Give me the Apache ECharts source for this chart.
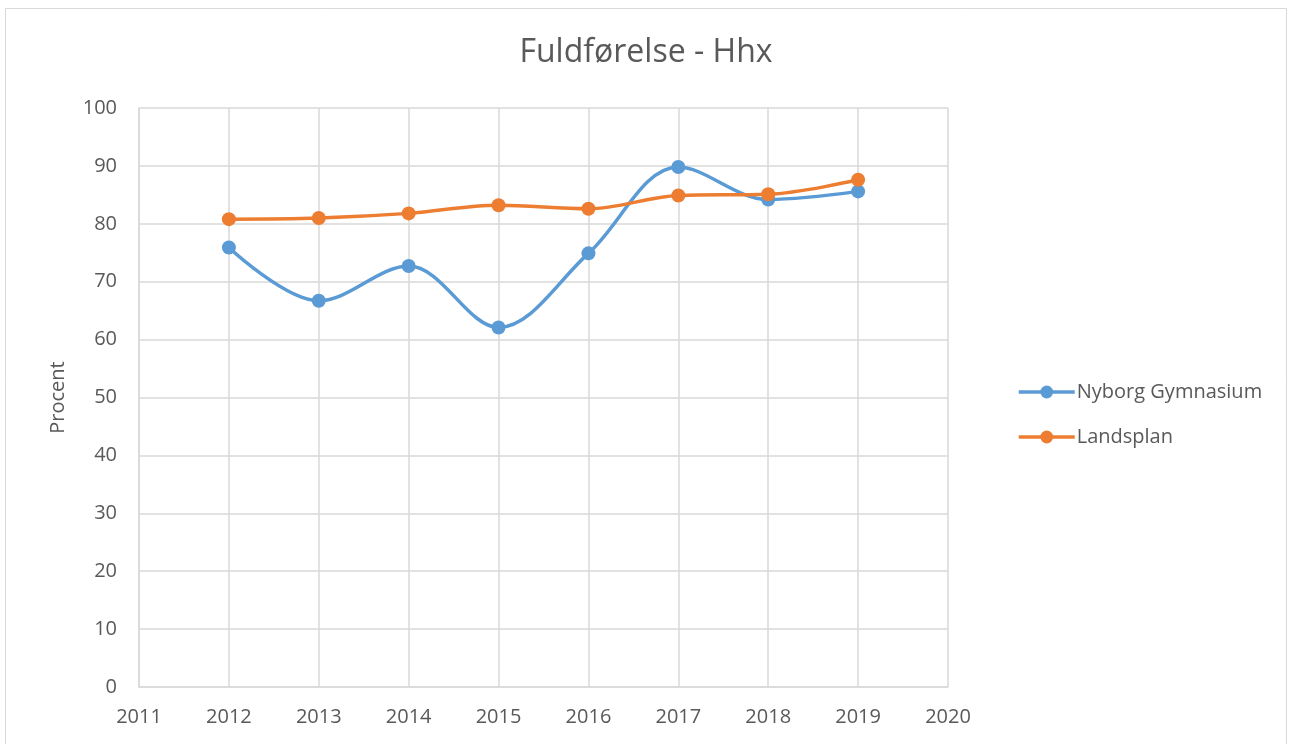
<!DOCTYPE html>
<html>
<head>
<meta charset="utf-8">
<script src="https://cdn.jsdelivr.net/npm/echarts@6/dist/echarts.min.js"></script>
<style>
html,body{margin:0;padding:0;background:#fff;}
#c{width:1292px;height:744px;}
</style>
</head>
<body>
<div id="c"></div>
<script>
const years = [2012, 2013, 2014, 2015, 2016, 2017, 2018, 2019];
const nyborg = [75.9, 66.7, 72.7, 62.1, 74.9, 89.8, 84.2, 85.6];
const landsplan = [80.8, 81.0, 81.8, 83.2, 82.6, 84.9, 85.1, 87.6];
const seriesNames = ['Nyborg Gymnasium', 'Landsplan'];
const titleText = 'Fuldførelse - Hhx';
const yAxisName = 'Procent';

const pair = (xs, ys) => xs.map((x, i) => [x, ys[i]]);
const textColor = '#595959';
const gridColor = '#d9d9d9';
const fontFamily = '"Open Sans", "Noto Sans", sans-serif';

const chart = echarts.init(document.getElementById('c'), null, {renderer: 'canvas'});
chart.setOption({
  backgroundColor: '#fff',
  animation: false,
  graphic: [{
    type: 'rect',
    shape: {x: 5.5, y: 8.5, width: 1281, height: 750},
    style: {fill: 'none', stroke: gridColor, lineWidth: 1},
    silent: true
  }],
  title: {
    text: titleText,
    left: 'center',
    top: 32,
    textStyle: {color: textColor, fontFamily: fontFamily, fontSize: 32, fontWeight: 'normal'}
  },
  legend: {
    orient: 'vertical',
    left: 1012,
    top: 377,
    itemWidth: 56,
    itemHeight: 16,
    itemGap: 25,
    data: seriesNames.map(n => ({name: n, lineStyle: {width: 3.5}})),
    textStyle: {color: textColor, fontFamily: fontFamily, fontSize: 20, padding: [0, 0, 0, -3]}
  },
  grid: {left: 139, right: 344, top: 108, bottom: 57, containLabel: false},
  xAxis: {
    type: 'value',
    min: 2011,
    max: 2020,
    interval: 1,
    axisLine: {show: true, lineStyle: {color: gridColor, width: 1.5}},
    axisTick: {show: false},
    splitLine: {show: true, lineStyle: {color: gridColor, width: 1.5}},
    axisLabel: {color: textColor, fontFamily: fontFamily, fontSize: 20, margin: 20, formatter: v => String(v)}
  },
  yAxis: {
    type: 'value',
    min: 0,
    max: 100,
    interval: 10,
    name: yAxisName,
    nameLocation: 'middle',
    nameGap: 71,
    nameRotate: 90,
    nameTextStyle: {color: textColor, fontFamily: fontFamily, fontSize: 20},
    axisLine: {show: true, lineStyle: {color: gridColor, width: 1.5}},
    axisTick: {show: false},
    splitLine: {show: true, lineStyle: {color: gridColor, width: 1.5}},
    axisLabel: {color: textColor, fontFamily: fontFamily, fontSize: 20, margin: 22}
  },
  series: [
    {
      name: seriesNames[0],
      type: 'line',
      data: pair(years, nyborg),
      smooth: 0.35,
      symbol: 'circle',
      symbolSize: 14,
      lineStyle: {color: '#5B9BD5', width: 3.5},
      itemStyle: {color: '#5B9BD5'}
    },
    {
      name: seriesNames[1],
      type: 'line',
      data: pair(years, landsplan),
      smooth: 0.35,
      symbol: 'circle',
      symbolSize: 14,
      lineStyle: {color: '#ED7D31', width: 3.5},
      itemStyle: {color: '#ED7D31'}
    }
  ]
});
</script>
</body>
</html>
